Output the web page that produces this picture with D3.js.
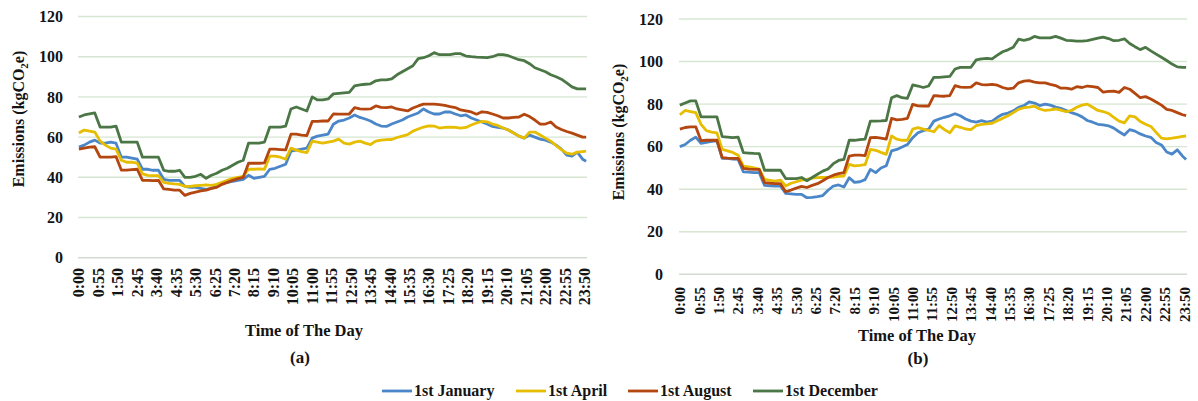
<!DOCTYPE html>
<html lang="en">
<head>
<meta charset="UTF-8">
<title>Emissions by Time of The Day</title>
<script src="https://d3js.org/d3.v7.min.js"></script>
<style>
    body { margin: 0; background: #fff; }
    svg text { font-family: "Liberation Serif", "Times New Roman", serif; font-weight: bold; fill: #141414; }
</style>
</head>
<body>
<svg id="chart" width="1198" height="401"></svg>
<script>
// sample times (minutes after midnight): every 15 min, plus the last 23:55 reading
const slotMinutes = [...d3.range(0, 1440, 15), 1435];

const tickLabels = ["0:00","0:55","1:50","2:45","3:40","4:35","5:30","6:25","7:20","8:15","9:10",
    "10:05","11:00","11:55","12:50","13:45","14:40","15:35","16:30","17:25","18:20","19:15",
    "20:10","21:05","22:00","22:55","23:50"];
const yTicks = [0, 20, 40, 60, 80, 100, 120];
const seriesNames = ["1st January", "1st April", "1st August", "1st December"];
const seriesColors = ["#4a86c8", "#e6bd00", "#b4460f", "#4b7645"];

// panel (a)
const janA = [55,56,57.5,58.5, 57,57,57.5,57, 50,50,49.5,49, 44,44,43.5,43.5,
    39,38.5,38.5,38.5, 35.5,35,35,34.5, 34,34.5,35.5,37, 37.5,38,38.5,39,
    41,39.5,40,40.5, 44,44.5,45.5,46.5, 53,53.5,54,54.5, 59.5,60.5,61,61.5,
    66.4,68,68.5,69.5, 71,69.8,69,68, 66.5,65.5,65.3,66.5, 67.5,68.5,70,71,
    72,74,72.5,71.5, 71.5,72.5,72.5,71.5, 70.6,71,69.5,68.5, 67.5,66.5,65.3,64.8,
    64.5,63.5,62,60.5, 59.5,61,60,59, 58.5,57.5,56,54, 51,50.5,52.5,49, 48];
const aprA = [62,63.5,63,62.5, 58,56,54.5,54, 48.5,47.5,47.5,47, 41.7,41,40.8,40.8,
    37.5,37,36.7,36.5, 35.5,35.5,35.8,36, 36.2,36,36.5,37.5, 38.5,39.5,40,40.5,
    44,44,44.2,44, 50.5,50.5,50,49, 54.5,53.5,52.8,52.3, 58,57.5,57,57.5,
    58,59,57,56.5, 57.5,58,57,56.3, 58,58.5,58.7,58.8, 59.8,60.5,61.2,63,
    64,65,65.6,65.5, 64.5,64.8,65,64.8, 64.5,64.8,66,67, 67.8,67.6,66.5,65.8,
    64.5,63.5,62,60.5, 59.5,62.5,62.5,61, 59.5,58,55.8,53.8, 52,51.5,52.5,52.8, 53];
const augA = [54,54.5,55,55.2, 50,50,50,50.3, 43.6,43.6,43.8,44, 38.5,38.5,38.3,38.5,
    34.2,34,33.6,33.6, 31,32,32.6,33.2, 33.6,34.5,35,36.5, 37.5,38.5,39.3,40,
    47,47,47,47.2, 54,54,53.8,53.6, 61.5,61.5,61,60.8, 67.8,67.8,68,68,
    71.5,71.4,71.4,71.5, 74.7,74,73.9,74, 75.5,74.8,74.7,75, 74,73.5,73,74.5,
    75.5,76.4,76.4,76.4, 76.2,75.8,75.2,74.7, 73.5,73,72.5,71.4, 72.6,72.3,71.5,70.6,
    69.5,69.5,69.8,70, 71.4,70.2,68.5,66.5, 66.5,67.5,65,63.8, 62.8,62,61,60, 60];
const decA = [70,71,71.5,72, 65,65,65,65.5, 57.5,57.5,57.5,57.5, 50,50,50,50,
    43.5,43,43,43.5, 40,40,40.5,41.5, 39.5,41,42,43.5, 44.5,46,47.5,48.5,
    57,57,57,57.5, 65,65,65,65.5, 74,75,74,73, 80,78.5,78.5,79,
    81.5,81.8,82,82.2, 85.5,86,86.3,86.5, 88,88.5,88.5,89, 91,92.5,94,95.5,
    99,99.5,100.5,102, 101,101,101,101.5, 101.5,100.3,100,99.8, 99.7,99.5,100,101,
    101,100.5,99.5,98.5, 98,96.5,94.5,93.5, 92.5,91,90,88.8, 87,85,84,84, 84];

// panel (b)
const janB = [60,61,63,64.5, 61.5,62,62.5,62.7, 54.5,54.5,54.2,54, 48.1,48,47.8,47.8,
    41.8,41.6,41.5,41.5, 38,37.8,37.6,37.6, 36,36.2,36.5,37, 39.5,41.5,42,41,
    45.4,43.2,43.5,44.5, 49.3,47.8,50,51, 58,58.7,59.8,61, 64.2,66.5,67.5,68.2,
    72,73,73.8,74.5, 75.5,74.5,73,72, 71.5,72.2,71.5,72, 73.8,75.2,75.8,76.8,
    78.5,79.3,81,80.5, 79.3,80,79.5,78.6, 78,77,76,75.2, 74,72.3,71.5,70.5,
    70.2,69.8,68.7,67, 65.5,68,67.3,66, 65,64.4,62,60.8, 57.5,56.5,58.5,55.5, 54];
const aprB = [75,77,76.5,76, 70.5,67.5,66.8,66.5, 58.7,58,57.3,56, 50.9,50.5,50,49.4,
    44.6,44.2,43.8,44.3, 41.5,42.8,43.5,44.3, 44.6,45.2,45.4,45.5, 45.6,45.7,46,46.2,
    51.7,51,51.2,51.5, 58.7,58.3,57.3,56.4, 65,63.5,63,63, 68.2,68.9,68.2,67.7,
    67,69.9,68,66.5, 69.8,69.1,68.3,68, 69.9,70.5,70.7,71, 72.2,73.3,74.5,76,
    77.5,78.3,78.6,79, 77.7,77,77.3,77.7, 77.2,76.4,77,78.5, 79.5,80,78.5,77,
    76.5,75.6,73.8,72, 71.2,74.5,74,71.8, 70.5,69.5,66.7,64, 63.7,64,64.4,64.8, 65];
const augB = [68.2,69,69.3,69.3, 62.8,63,63,63, 54.8,54.6,54.5,54.5, 49.8,49.4,49.3,49.3,
    43.1,42.8,42.6,42.6, 38.8,39.6,40.5,41.3, 40.8,41.8,42.6,44, 45.5,46.6,47.3,47.8,
    55.6,56,56,55.8, 64.2,64.4,64,63.5, 73.3,72.6,72.8,73.3, 79.9,79.2,79.1,79.1,
    84,83.8,83.7,84, 88.7,88,87.9,88, 90,89.2,89,89.3, 88.9,87.8,87.2,87.5,
    90,90.8,91,90.3, 90,90,89.3,88.7, 87.5,87.5,87,88.2, 87.8,88.5,88.2,87.8,
    85.6,86,86.1,85.5, 87.8,87,85,83, 83.5,82.4,81,79.5, 77.5,77,76,75, 74.6];
const decB = [79.5,80.5,81.5,81.5, 74,74,74,74, 64.7,64.5,64.2,64.5, 57.2,57,56.8,56.7,
    48.9,48.9,48.9,48.9, 45,45,45,45.5, 44,45.5,47,48.5, 49.5,52,53.5,54,
    63,63,63.3,63.5, 72,72,72.1,72.3, 83,84,83,82.7, 89,88.5,87.8,88.5,
    92.6,92.6,92.8,93, 96.5,97.3,97.3,97.3, 100.8,101.3,101.5,101.3, 103,104.6,105.5,106.7,
    110.5,110,110.5,111.8, 111.1,111.1,111.1,111.8, 111,110,109.8,109.6, 109.6,109.8,110.4,111,
    111.5,110.8,109.8,110, 110.7,108.5,107,105.6, 106.7,105,103.5,102, 100.5,98.8,97.5,97.3, 97.3];

const svg = d3.select("#chart");

const panels = [
    { tag: "(a)", series: [janA, aprA, augA, decA], left: 78, right: 587, top: 16.5, bottom: 257.7,
      yLabelX: 63, titleX: 18, titleY: 119, tickTop: 268, tickSize: 16,
      xTitleX: 304, xTitleY: 336, tagX: 300, tagY: 363 },
    { tag: "(b)", series: [janB, aprB, augB, decB], left: 679, right: 1187, top: 19, bottom: 274.3,
      yLabelX: 663, titleX: 618, titleY: 132, tickTop: 287, tickSize: 15,
      xTitleX: 917, xTitleY: 341, tagX: 918, tagY: 364 }
];

function toMinutes(label) {
    const [h, m] = label.split(":").map(Number);
    return h * 60 + m;
}

function drawPanel(p) {
    const g = svg.append("g");

    // Excel-style category axis: each 5 min reading sits in the middle of its slot
    const x = d3.scaleLinear().domain([-2.5, 1437.5]).range([p.left, p.right]);
    const y = d3.scaleLinear().domain([0, 120]).range([p.bottom, p.top]);

    g.selectAll("line.grid")
        .data(yTicks)
        .enter().append("line")
        .attr("x1", p.left).attr("x2", p.right)
        .attr("y1", d => y(d)).attr("y2", d => y(d))
        .attr("stroke", d => d === 0 ? "#d4dbd2" : "#d6e6d2")
        .attr("stroke-width", 1.4);

    g.selectAll("text.ytick")
        .data(yTicks)
        .enter().append("text")
        .attr("x", p.yLabelX)
        .attr("y", d => y(d))
        .attr("dy", "0.35em")
        .attr("text-anchor", "end")
        .style("font-size", "16px")
        .text(d => d);

    g.selectAll("text.xtick")
        .data(tickLabels)
        .enter().append("text")
        .attr("transform", d => `translate(${x(toMinutes(d))},${p.tickTop}) rotate(-90)`)
        .attr("dy", "0.35em")
        .attr("text-anchor", "end")
        .style("font-size", p.tickSize + "px")
        .text(d => d);

    const line = d3.line()
        .x((d, i) => x(slotMinutes[i]))
        .y(d => y(d));

    p.series.forEach((values, k) => {
        g.append("path")
            .datum(values)
            .attr("fill", "none")
            .attr("stroke", seriesColors[k])
            .attr("stroke-width", 2.8)
            .attr("stroke-linejoin", "round")
            .attr("d", line);
    });

    // axis titles
    const yt = g.append("text")
        .attr("transform", `translate(${p.titleX},${p.titleY}) rotate(-90)`)
        .attr("text-anchor", "middle")
        .attr("dy", "0.35em")
        .style("font-size", "16px");
    yt.append("tspan").text("Emissions (kgCO");
    yt.append("tspan").attr("dy", 4).style("font-size", "11px").text("2");
    yt.append("tspan").attr("dy", -4).text("e)");

    g.append("text")
        .attr("x", p.xTitleX)
        .attr("y", p.xTitleY)
        .attr("text-anchor", "middle")
        .style("font-size", "16.5px")
        .text("Time of The Day");

    g.append("text")
        .attr("x", p.tagX)
        .attr("y", p.tagY)
        .attr("text-anchor", "middle")
        .style("font-size", "17px")
        .text(p.tag);
}

panels.forEach(drawPanel);

// shared legend
const legendX = [382, 516, 628, 753];
const legend = svg.append("g");
seriesNames.forEach((name, k) => {
    legend.append("line")
        .attr("x1", legendX[k]).attr("x2", legendX[k] + 30)
        .attr("y1", 391).attr("y2", 391)
        .attr("stroke", seriesColors[k])
        .attr("stroke-width", 2.8);
    legend.append("text")
        .attr("x", legendX[k] + 32)
        .attr("y", 396)
        .style("font-size", "16px")
        .text(name);
});
</script>
</body>
</html>
